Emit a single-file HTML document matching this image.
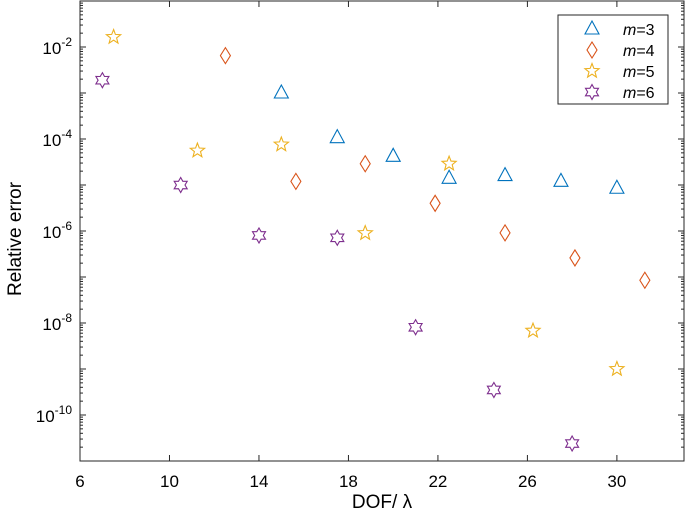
<!DOCTYPE html>
<html><head><meta charset="utf-8"><style>
body{margin:0;background:#fff;}
svg{display:block;font-family:"Liberation Sans",sans-serif;}
</style></head><body>
<svg id="chart" width="685" height="513"></svg>
<script>
const xTicks=[6,10,14,18,22,26,30];
const yDecades=[-10,-8,-6,-4,-2];
const series=["m=3","m=4","m=5","m=6"];
const m3x=[15,17.5,20,22.5,25,27.5,30];
const m3y=[1e-3,1.07e-4,4.2e-5,1.4e-5,1.6e-5,1.2e-5,8.5e-6];
const m4x=[12.5,15.65,18.75,21.875,25,28.125,31.25];
const m4y=[6.5e-3,1.2e-5,2.9e-5,4e-6,9.1e-7,2.6e-7,8.5e-8];
const m5x=[7.5,11.25,15,18.75,22.5,26.25,30];
const m5y=[1.65e-2,5.6e-5,7.6e-5,9e-7,2.9e-5,6.8e-9,1e-9];
const m6x=[7,10.5,14,17.5,21,24.5,28];
const m6y=[1.9e-3,1.0e-5,8e-7,7.1e-7,8.1e-9,3.5e-10,2.4e-11];

const L=80,R=684,T=1,B=461,xmin=6,xmax=33,lmin=-11,lmax=-1;
const X=v=>L+(v-xmin)/(xmax-xmin)*(R-L);
const Y=v=>B-(Math.log10(v)-lmin)/(lmax-lmin)*(B-T);
const svg=document.getElementById('chart');
const NS='http://www.w3.org/2000/svg';
function mk(tag,attrs,parent){const e=document.createElementNS(NS,tag);for(const k in attrs)e.setAttribute(k,attrs[k]);(parent||svg).appendChild(e);return e;}
const ax=mk('g',{stroke:'#262626','stroke-width':1,fill:'none'});


mk('rect',{x:L,y:T,width:R-L,height:B-T},ax);
xTicks.forEach(t=>{const x=X(t);mk('line',{x1:x,x2:x,y1:B,y2:B-6},ax);mk('line',{x1:x,x2:x,y1:T,y2:T+6},ax);
 const tx=mk('text',{x:x,y:B+26,'text-anchor':'middle','font-size':17,fill:'#000'});tx.textContent=t;
 
 });
for(let d=lmin;d<lmax;d++){for(let k=1;k<10;k++){const v=k*Math.pow(10,d);const y=Y(v);const len=k==1?6:3;
 mk('line',{x1:L,x2:L+len,y1:y,y2:y},ax);mk('line',{x1:R,x2:R-len,y1:y,y2:y},ax);}}
yDecades.forEach(d=>{const y=Y(Math.pow(10,d));
 const tx=mk('text',{x:L-8,y:y+7,'text-anchor':'end','font-size':17,fill:'#000'});
 
 
 tx.innerHTML='10<tspan dy="-8" font-size="12">'+d+'</tspan>';});
const yl=mk('text',{x:0,y:0,transform:'translate(21,239) rotate(-90)','text-anchor':'middle','font-size':19,fill:'#000'});
yl.textContent='Relative error';


const xl=mk('text',{x:382,y:508,'text-anchor':'middle','font-size':19,fill:'#000'});
xl.textContent='DOF/ λ';



const colors=['#0072BD','#D95319','#EDB120','#7E2F8E'];
function marker(type,cx,cy,c,g){
 let p;
 if(type==0){p=`M${cx-7},${cy+5}L${cx+7},${cy+5}L${cx},${cy-8}Z`;}
 else if(type==1){p=`M${cx},${cy-8}L${cx+5},${cy}L${cx},${cy+8}L${cx-5},${cy}Z`;}
 else if(type==2){p='';for(let i=0;i<10;i++){const r=i%2?3.2:7.5;const a=-Math.PI/2+i*Math.PI/5;p+=(i?'L':'M')+(cx+r*Math.cos(a)).toFixed(1)+','+(cy+r*Math.sin(a)).toFixed(1);}p+='Z';}
 else {p='';for(let i=0;i<12;i++){const r=i%2?4.3:7.5;const a=-Math.PI/2+i*Math.PI/6;p+=(i?'L':'M')+(cx+r*Math.cos(a)).toFixed(1)+','+(cy+r*Math.sin(a)).toFixed(1);}p+='Z';}
 return mk('path',{d:p,fill:'none',stroke:c,'stroke-width':1.1},g);
}
const data=[[m3x,m3y],[m4x,m4y],[m5x,m5y],[m6x,m6y]];
data.forEach((s,i)=>{const g=mk('g',{});
 
 
 s[0].forEach((xv,j)=>{const m=marker(i,X(xv),Y(s[1][j]),colors[i],g);
  
  });});

const lg=mk('g',{});


mk('rect',{x:558,y:15,width:110,height:89,fill:'#fff',stroke:'#262626','stroke-width':1},lg);
series.forEach((s,i)=>{const cy=29+i*21;marker(i,592,cy,colors[i],lg);
 const t=mk('text',{x:623,y:cy+6,'font-size':16,fill:'#000'},lg);
 t.innerHTML='<tspan font-style="italic">m</tspan>='+s.slice(2);
 
 });
</script>
</body></html>
